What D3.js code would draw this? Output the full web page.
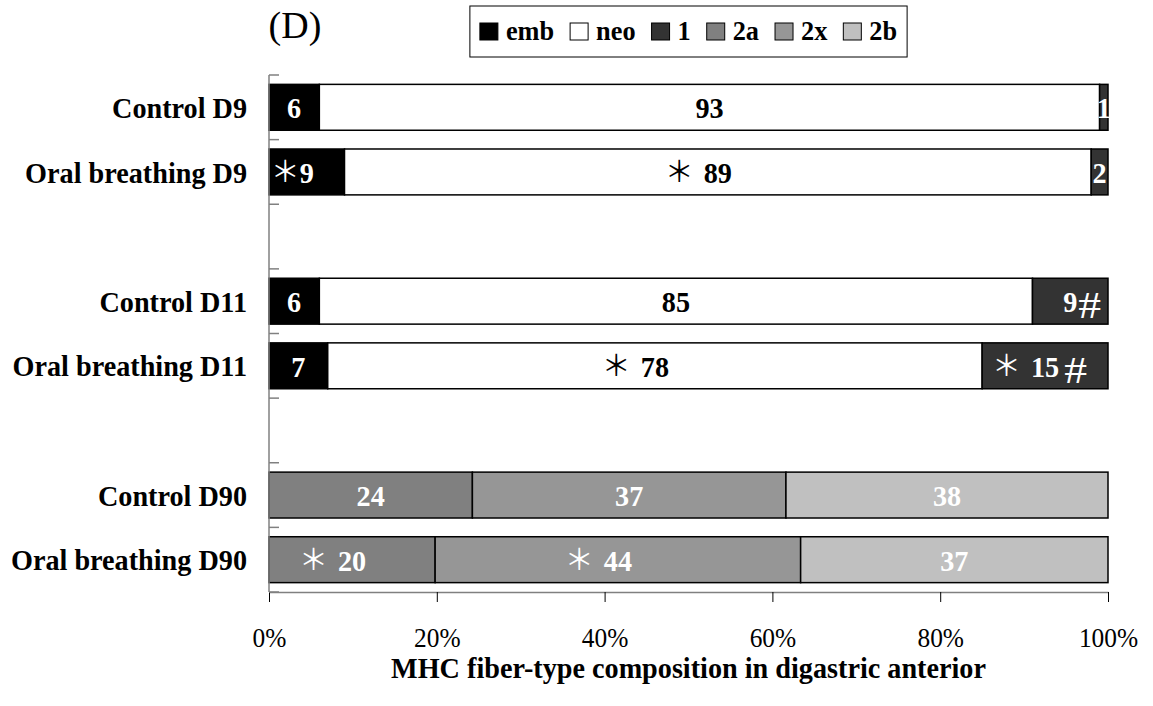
<!DOCTYPE html>
<html><head><meta charset="utf-8">
<script src="https://cdn.jsdelivr.net/npm/d3@7/dist/d3.min.js"></script>
<style>
html,body{margin:0;padding:0;background:#fff;}
</style></head>
<body>
<svg id="chart" width="1153" height="706" font-family="Liberation Serif, Times New Roman, serif"></svg>
<script>
// ---------- data ----------
const categories = ["Control D9","Oral breathing D9","Control D11","Oral breathing D11","Control D90","Oral breathing D90"];
const groupOf = [0,0,1,1,2,2];           // a blank slot separates the groups
const seriesKeys = ["emb","neo","1","2a","2x","2b"];
const embVals  = [6, 9, 6, 7, 0, 0];
const neoVals  = [93, 89, 85, 78, 0, 0];
const t1Vals   = [1, 2, 9, 15, 0, 0];
const t2aVals  = [0, 0, 0, 0, 24, 20];
const t2xVals  = [0, 0, 0, 0, 37, 44];
const t2bVals  = [0, 0, 0, 0, 38, 37];
// significance marks (prefix "＊" / suffix "#")
const embStar  = ["", "＊", "", "", "", ""];
const neoStar  = ["", "＊", "", "＊", "", ""];
const t1Star   = ["", "", "", "＊", "", ""];
const t1Hash   = ["", "", "#", "#", "", ""];
const t2aStar  = ["", "", "", "", "", "＊"];
const t2xStar  = ["", "", "", "", "", "＊"];
const xTicks = [0, 0.2, 0.4, 0.6, 0.8, 1];
const xTitle = "MHC fiber-type composition in digastric anterior";
const panelLabel = "(D)";

const colors = {"emb":"#000000","neo":"#ffffff","1":"#333333","2a":"#808080","2x":"#969696","2b":"#c0c0c0"};
const labelColors = {"emb":"#fff","neo":"#000","1":"#fff","2a":"#fff","2x":"#fff","2b":"#fff"};
const seriesVals = {"emb":embVals,"neo":neoVals,"1":t1Vals,"2a":t2aVals,"2x":t2xVals,"2b":t2bVals};
const none = categories.map(()=> "");
const seriesStar = {"emb":embStar,"neo":neoStar,"1":t1Star,"2a":t2aStar,"2x":t2xStar,"2b":none};
const seriesHash = {"emb":none,"neo":none,"1":t1Hash,"2a":none,"2x":none,"2b":none};

const rows = categories.map((c,i)=>{
  const r = {cat:c, idx:i, slot:i+groupOf[i]};
  seriesKeys.forEach(k=> r[k]=seriesVals[k][i]);
  return r;
});

const SX = 0.94; // horizontal condensing of the serif text
function place(sel, px, py, sx){ return sel.attr("transform", `translate(${px},${py}) scale(${sx==null?SX:sx},1)`); }

// ---------- scales ----------
const svg = d3.select("#chart");
const X0 = 269, X1 = 1108, Y0 = 75, Y1 = 592;
const x = d3.scaleLinear().domain([0,1]).range([X0,X1]);
const y = d3.scaleBand().domain(d3.range(8)).range([Y0,Y1]).paddingInner(0.29).paddingOuter(0.145);

const stacked = d3.stack().keys(seriesKeys).offset(d3.stackOffsetExpand)(rows);

// ---------- bars ----------
const gBars = svg.append("g");
stacked.forEach(layer=>{
  const key = layer.key;
  gBars.selectAll(null).data(layer.filter(d=>d.data[key]>0)).join("rect")
    .attr("x", d=>x(d[0]))
    .attr("y", d=>y(d.data.slot))
    .attr("width", d=>x(d[1])-x(d[0]))
    .attr("height", y.bandwidth())
    .attr("fill", colors[key])
    .attr("stroke", "#000")
    .attr("stroke-width", 1.5);
});

// ---------- data labels ----------
const gLab = svg.append("g");
stacked.forEach(layer=>{
  const key = layer.key;
  layer.filter(d=>d.data[key]>0).forEach(d=>{
    const i = d.data.idx;
    const cx = (x(d[0])+x(d[1]))/2;
    const cy = y(d.data.slot)+y.bandwidth()/2;
    const col = labelColors[key];
    const num = gLab.append("text")
      .attr("dy","0.37em")
      .attr("text-anchor","middle")
      .attr("font-size", 30).attr("font-weight","bold")
      .attr("fill", col).text(d.data[key]);
    place(num, cx, cy);
    const w = num.node().getComputedTextLength()*SX;
    const star = seriesStar[key][i];
    if (star) {
      const tight = key==="emb";
      gLab.append("text")
        .attr("x", cx - w/2 - (tight?0:10)).attr("y", cy).attr("dy","0.36em")
        .attr("text-anchor","end")
        .attr("font-size", 29).attr("font-weight","normal")
        .style("font-family","'Noto Sans CJK JP'")
        .attr("fill", col).text(star);
    }
    const hash = seriesHash[key][i];
    if (hash) {
      const wide = d.data[key] >= 10;
      const h = gLab.append("text")
        .attr("dy","0.45em")
        .attr("text-anchor","start")
        .attr("font-size", 38)
        .attr("fill", col).text(hash);
      place(h, cx + w/2 + (wide?5:1), cy, 1.2);
    }
  });
});

// ---------- axes ----------
const xAxis = d3.axisBottom(x).tickValues(xTicks).tickFormat(d3.format(".0%")).tickSize(10).tickPadding(26).tickSizeOuter(0);
const gx = svg.append("g").attr("transform",`translate(0,${Y1})`).call(xAxis)
  .attr("font-family", null);
gx.select(".domain").attr("stroke","#808080").attr("stroke-width",1.5);
gx.selectAll(".tick line").attr("stroke","#000").attr("stroke-width",1);
gx.selectAll(".tick text").attr("font-size",27).attr("fill","#000")
  .style("font-family","'Liberation Serif'")
  .each(function(){
    const t = d3.select(this);
    const ty = +t.attr("y");
    t.attr("y", null);
    place(t, 0, ty);
  });

// y axis line with inward ticks at slot boundaries
const gy = svg.append("g");
gy.append("line").attr("x1",X0).attr("x2",X0).attr("y1",Y0).attr("y2",Y1)
  .attr("stroke","#808080").attr("stroke-width",1.5);
const bounds = d3.range(9).map(k=> Y0 + k*y.step());
gy.selectAll(null).data(bounds).join("line")
  .attr("x1",X0).attr("x2",X0+10).attr("y1",d=>d).attr("y2",d=>d)
  .attr("stroke","#808080").attr("stroke-width",1.5);

// category labels
svg.append("g").selectAll("text").data(rows).join("text")
  .attr("dy","0.355em")
  .attr("text-anchor","end").attr("font-size",30).attr("font-weight","bold")
  .attr("transform", d=>`translate(247,${y(d.slot)+y.bandwidth()/2}) scale(${SX},1)`)
  .text(d=>d.cat);

// axis title (centred on plot area)
place(svg.append("text").attr("text-anchor","middle")
  .attr("font-size",30).attr("font-weight","bold").text(xTitle), (X0+X1)/2, 678);

// panel label
svg.append("text").attr("x",295).attr("y",38).attr("text-anchor","middle")
  .attr("font-size",38).text(panelLabel);

// ---------- legend ----------
const lg = svg.append("g");
const box = lg.append("rect").attr("y",6).attr("height",51)
  .attr("fill","#fff").attr("stroke","#000").attr("stroke-width",1);
const items = lg.append("g");
let cur = 0;
seriesKeys.forEach((k,j)=>{
  items.append("rect").attr("x",cur).attr("y",23).attr("width",18).attr("height",17)
    .attr("fill",colors[k]).attr("stroke","#000").attr("stroke-width",1);
  const t = items.append("text")
    .attr("font-size",28).attr("font-weight","bold").text(k);
  place(t, cur+26, 40);
  cur += 26 + t.node().getComputedTextLength()*SX + 16;
});
const itemsW = cur - 16;
const boxW = itemsW + 20;
const boxX = (X0+X1)/2 - boxW/2;
box.attr("x", boxX).attr("width", boxW);
items.attr("transform", `translate(${boxX+10},0)`);
</script>
</body></html>
